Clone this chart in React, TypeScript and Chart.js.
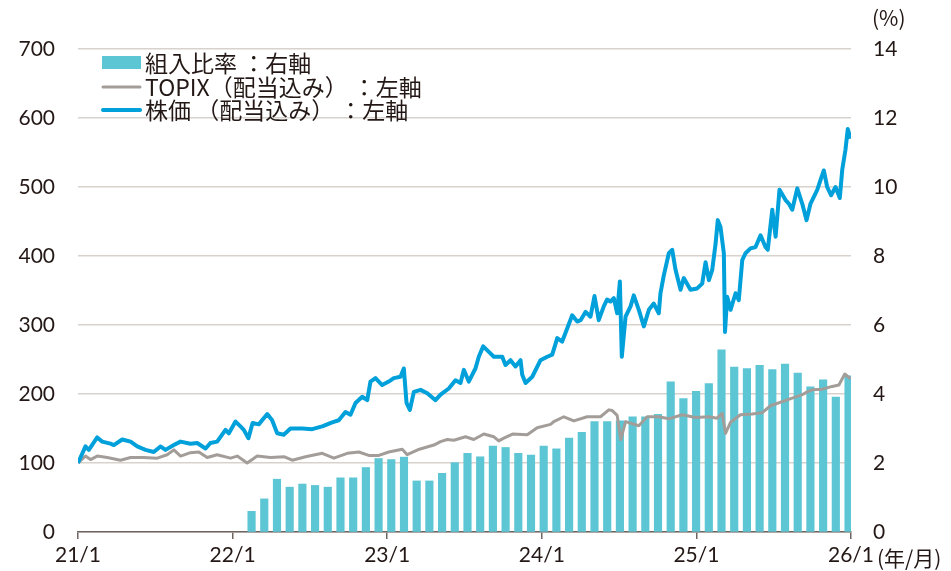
import React, { useEffect, useRef } from 'react';
import { Chart, registerables } from 'chart.js';

Chart.register(...registerables);

// ---- axis / tick labels ----
const xTickMonths = [0, 12, 24, 36, 48, 60];
const xTickLabels = ['21/1', '22/1', '23/1', '24/1', '25/1', '26/1'];
const legendLabels = ['組入比率 ：右軸', 'TOPIX（配当込み） ：左軸', '株価 （配当込み） ：左軸'];
const rightUnit = '(%)';
const xUnit = '(年/月)';

// ---- 株価（配当込み） : months since 2021/1 and index value ----
const stockMonths = [
  0, 0.58, 0.84, 1.49, 1.88, 2.52, 2.78, 3.43, 4.08, 4.6,
  5.24, 5.88, 6.4, 6.79, 7.44, 7.96, 8.73, 9.25, 9.9, 10.28,
  10.8, 11.45, 11.71, 12.23, 12.61, 12.87, 13.23, 13.55, 14.03, 14.69,
  15.07, 15.46, 15.97, 16.49, 17.4, 18.18, 18.96, 19.73, 20.24, 20.76,
  21.15, 21.54, 22.06, 22.45, 22.7, 23.09, 23.61, 24.12, 24.51, 25.03,
  25.29, 25.5, 25.76, 26.07, 26.59, 27.11, 27.75, 28.14, 28.78, 29.3,
  29.69, 29.95, 30.33, 30.85, 31.11, 31.45, 31.89, 32.28, 32.93, 33.18,
  33.57, 33.96, 34.35, 34.48, 34.74, 35.26, 35.9, 36.42, 36.81, 37.2,
  37.58, 37.97, 38.36, 38.75, 39.01, 39.4, 39.78, 40.09, 40.42, 40.81,
  41.07, 41.33, 41.59, 41.85, 42.06, 42.21, 42.5, 42.89, 43.14, 43.53,
  43.92, 44.31, 44.69, 45.08, 45.21, 45.47, 45.86, 46.12, 46.38, 46.77,
  47.02, 47.54, 48.06, 48.45, 48.71, 48.97, 49.23, 49.49, 49.66, 49.87,
  50.13, 50.22, 50.39, 50.65, 51.04, 51.29, 51.56, 51.81, 52.2, 52.59,
  52.98, 53.36, 53.54, 53.89, 54.15, 54.45, 54.92, 55.17, 55.44, 55.83,
  56.21, 56.55, 56.86, 57.38, 57.63, 57.89, 58.15, 58.46, 58.8, 59.13,
  59.32, 59.57, 59.75, 59.96,
];
const stockValues = [
  100, 124, 119, 137, 131, 128, 126, 134, 131, 124,
  119, 116, 124, 119, 126, 131, 128, 129, 121, 129,
  131, 148, 143, 160, 153, 148, 136, 158, 156, 171,
  162, 143, 141, 150, 150, 149, 153, 159, 162, 174,
  170, 187, 196, 191, 218, 223, 213, 218, 223, 225,
  237, 187, 177, 203, 206, 201, 191, 199, 208, 220,
  216, 235, 218, 237, 254, 269, 261, 254, 254, 242,
  249, 240, 249, 228, 216, 225, 249, 254, 257, 281,
  276, 295, 314, 305, 307, 319, 312, 342, 307, 327,
  337, 334, 339, 317, 363, 254, 312, 327, 343, 322,
  298, 322, 331, 317, 346, 372, 404, 409, 380, 351,
  368, 351, 353, 360, 391, 365, 380, 418, 452, 442,
  404, 290, 341, 322, 346, 336, 394, 404, 411, 413,
  430, 413, 409, 467, 428, 496, 481, 476, 467, 498,
  476, 452, 476, 496, 510, 524, 500, 488, 500, 484,
  525, 554, 584, 570,
];

// ---- TOPIX（配当込み） ----
const topixMonths = [
  0, 0.58, 0.97, 1.49, 2.27, 3.3, 4.08, 5.11, 6.15, 6.92,
  7.44, 7.96, 8.73, 9.38, 10.03, 10.8, 11.84, 12.36, 13.13, 13.91,
  14.94, 16.03, 16.63, 17.66, 18.96, 19.86, 20.9, 21.8, 22.57, 23.35,
  24.12, 25.17, 25.55, 26.5, 27.62, 28.14, 28.66, 29.17, 30.08, 30.72,
  31.5, 32.28, 32.66, 33.05, 33.73, 34.87, 35.64, 36.68, 36.93, 37.71,
  38.49, 39.52, 40.56, 41.2, 41.47, 41.85, 42.13, 42.5, 43.53, 44.18,
  45.08, 45.86, 46.9, 47.93, 48.96, 49.61, 50.0, 50.26, 50.65, 51.42,
  52.33, 53.11, 53.75, 54.66, 55.44, 56.21, 56.6, 57.0, 57.77, 58.54,
  59.06, 59.52, 59.96,
];
const topixValues = [
  100, 110, 105, 110, 108, 104, 108, 108, 107, 112,
  119, 110, 115, 116, 108, 112, 107, 110, 100, 110,
  108, 109, 104, 109, 114, 107, 114, 116, 111, 111,
  116, 120, 112, 120, 126, 131, 134, 133, 138, 134,
  142, 138, 132, 136, 142, 141, 151, 156, 160, 167,
  161, 167, 167, 177, 176, 169, 134, 160, 154, 167,
  167, 164, 170, 166, 167, 165, 172, 143, 159, 170,
  171, 173, 183, 189, 194, 199, 203, 206, 207, 211,
  213, 229, 222,
];

// ---- 組入比率 (%) : monthly, 2022/1 .. 2025/12 ----
const weightValues = [
  0.6, 0.96, 1.53, 1.3, 1.39, 1.35, 1.3, 1.57, 1.57, 1.87, 2.13, 2.1,
  2.17, 1.48, 1.48, 1.7, 2.01, 2.28, 2.18, 2.49, 2.45, 2.28, 2.23, 2.49,
  2.41, 2.72, 2.89, 3.2, 3.2, 3.22, 3.34, 3.34, 3.41, 4.35, 3.87, 4.08,
  4.3, 5.28, 4.78, 4.74, 4.83, 4.71, 4.87, 4.61, 4.21, 4.41, 3.91, 4.53,
];

// ---- styles ----
const TEXT = '#231815';
const BLUE = '#00a0da';
const GREY = '#a39d99';
const TEAL = '#5dc6d4';
const GRID = '#d8d2cd';
const AXIS = '#6e6560';
const NUM_FONT = 'Lato, "Noto Sans", sans-serif';
const JP_FONT = '"Noto Sans CJK JP", "Noto Sans", sans-serif';

const overlayPlugin = {
  id: 'overlay',
  afterDraw(chart: any) {
    const ctx = chart.ctx as CanvasRenderingContext2D;
    ctx.save();
    // legend markers
    ctx.fillStyle = TEAL;
    ctx.fillRect(102, 56, 39, 13);
    ctx.lineCap = 'round';
    ctx.strokeStyle = GREY;
    ctx.lineWidth = 3;
    ctx.beginPath();
    ctx.moveTo(103, 87);
    ctx.lineTo(140, 87);
    ctx.stroke();
    ctx.strokeStyle = BLUE;
    ctx.lineWidth = 4;
    ctx.beginPath();
    ctx.moveTo(103, 110);
    ctx.lineTo(140, 110);
    ctx.stroke();
    // legend text
    ctx.fillStyle = TEXT;
    ctx.font = `23px ${JP_FONT}`;
    ctx.textAlign = 'left';
    ctx.textBaseline = 'middle';
    ctx.fillText(legendLabels[0], 145, 63);
    ctx.fillText(legendLabels[1], 145, 87);
    ctx.fillText(legendLabels[2], 145, 110);
    // units
    ctx.font = `21px ${JP_FONT}`;
    ctx.fillText(rightUnit, 872, 18);
    ctx.fillText(xUnit, 877, 558);
    ctx.restore();
  },
};

export default function App() {
  const ref = useRef<HTMLCanvasElement>(null);

  useEffect(() => {
    if (!ref.current) return;
    const chart = new Chart(ref.current, {
      type: 'line',
      data: {
        datasets: [
          {
            type: 'line',
            label: legendLabels[2],
            data: stockMonths.map((m, i) => ({ x: m, y: stockValues[i] })),
            borderColor: BLUE,
            borderWidth: 4,
            borderJoinStyle: 'round',
            pointRadius: 0,
            tension: 0,
            xAxisID: 'x',
            yAxisID: 'y',
            order: 0,
          },
          {
            type: 'line',
            label: legendLabels[1],
            data: topixMonths.map((m, i) => ({ x: m, y: topixValues[i] })),
            borderColor: GREY,
            borderWidth: 3,
            borderJoinStyle: 'round',
            pointRadius: 0,
            tension: 0,
            xAxisID: 'x',
            yAxisID: 'y',
            order: 1,
          },
          {
            type: 'bar',
            label: legendLabels[0],
            data: weightValues.map((v, i) => ({ x: i, y: v })),
            backgroundColor: TEAL,
            barThickness: 7.5,
            xAxisID: 'xb',
            yAxisID: 'y2',
            order: 2,
          },
        ] as any,
      },
      options: {
        responsive: false,
        animation: false,
        devicePixelRatio: 1,
        layout: { padding: { top: 49, left: 0, right: 0, bottom: 0 } },
        plugins: { legend: { display: false }, tooltip: { enabled: false } },
        scales: {
          x: {
            type: 'linear',
            position: 'bottom',
            min: 0,
            max: 60,
            afterBuildTicks: (s: any) => {
              s.ticks = xTickMonths.map((v) => ({ value: v }));
            },
            ticks: {
              callback: (_v: any, i: number) => xTickLabels[i],
              font: { family: NUM_FONT, size: 21 },
              color: TEXT,
              padding: 4,
              maxRotation: 0,
              autoSkip: false,
            },
            grid: { drawOnChartArea: false, drawTicks: true, tickLength: 7, color: AXIS, lineWidth: 1.5 },
            border: { display: true, color: AXIS, width: 1.5 },
            afterFit: (s: any) => {
              s.height = 39;
            },
          },
          xb: {
            type: 'linear',
            display: false,
            offset: false,
            min: -13.37,
            max: 47.49,
          },
          y: {
            type: 'linear',
            position: 'left',
            min: 0,
            max: 700,
            ticks: { stepSize: 100, padding: 23, font: { family: NUM_FONT, size: 21 }, color: TEXT },
            grid: { color: GRID, lineWidth: 1.5, drawTicks: false },
            border: { display: false },
            afterFit: (s: any) => {
              s.width = 78;
            },
          },
          y2: {
            type: 'linear',
            position: 'right',
            min: 0,
            max: 14,
            ticks: { stepSize: 2, padding: 22, font: { family: NUM_FONT, size: 21 }, color: TEXT },
            grid: { drawOnChartArea: false, drawTicks: false },
            border: { display: false },
            afterFit: (s: any) => {
              s.width = 100;
            },
          },
        } as any,
      },
      plugins: [overlayPlugin],
    });
    return () => chart.destroy();
  }, []);

  return (
    <div style={{ position: 'fixed', left: 0, top: 0, width: 951, height: 571, background: '#fff' }}>
      <canvas ref={ref} width={951} height={571} style={{ display: 'block' }} />
    </div>
  );
}
